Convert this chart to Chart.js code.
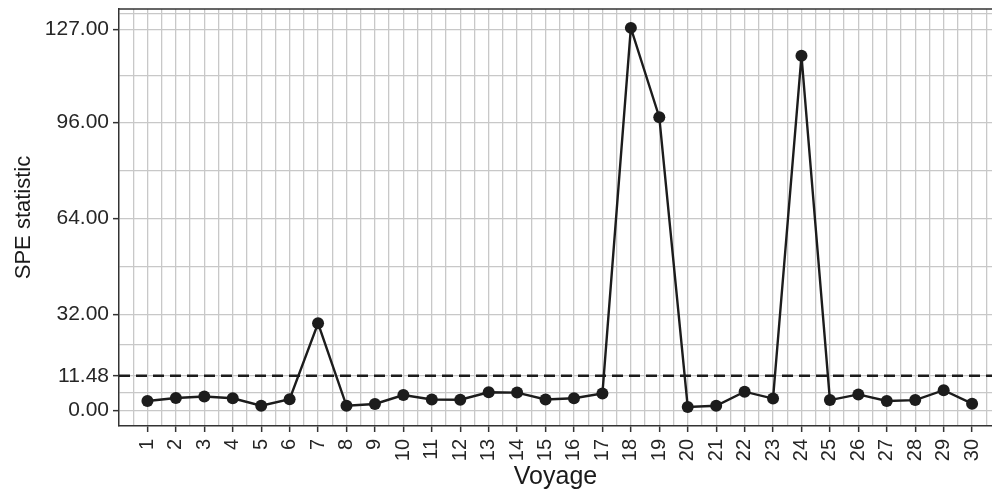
<!DOCTYPE html>
<html lang="en">
<head>
<meta charset="UTF-8">
<title>SPE statistic by voyage</title>
<style>
  html, body { margin: 0; padding: 0; background: #fff; }
  canvas { display: block; }
</style>
</head>
<body>
<canvas id="speChart" width="992" height="492"></canvas>

<script src="https://cdn.jsdelivr.net/npm/chart.js"></script>
<script>
// data
const voyages = ['1', '2', '3', '4', '5', '6', '7', '8', '9', '10',
                 '11', '12', '13', '14', '15', '16', '17', '18', '19', '20',
                 '21', '22', '23', '24', '25', '26', '27', '28', '29', '30'];
const speValues = [3.1, 4.1, 4.6, 4.0, 1.5, 3.7, 29.0, 1.5, 2.1, 5.1,
                   3.6, 3.5, 6.0, 5.9, 3.6, 4.0, 5.6, 127.6, 97.8, 1.1,
                   1.5, 6.2, 3.9, 118.3, 3.4, 5.3, 3.1, 3.4, 6.7, 2.2];
const threshold = 11.48;
const yMajorTicks = [0, 11.48, 32, 64, 96, 127];
const yMinorTicks = [5.74, 21.74, 48, 80, 111.5, 132.4];

const FONT = '"Liberation Sans", Arial, Helvetica, sans-serif';
const xMin = 0, xMax = 30.7;
const yMin = -5.25, yMax = 133.9;

// grid every half step between voyages
const xGrid = [];
for (let i = 1; i <= voyages.length * 2 + 1; i++) xGrid.push(i / 2);

const isMajorY = v => yMajorTicks.includes(v);
const isMajorX = v => Number.isInteger(v) && v >= 1 && v <= voyages.length;

// top frame line of the panel
const topBorder = {
    id: 'topBorder',
    afterDraw(chart) {
        const { ctx, chartArea: a } = chart;
        ctx.save();
        ctx.strokeStyle = '#333';
        ctx.lineWidth = 1.5;
        ctx.beginPath();
        ctx.moveTo(a.left, a.top);
        ctx.lineTo(a.right, a.top);
        ctx.stroke();
        ctx.restore();
    }
};

new Chart(document.getElementById('speChart'), {
    type: 'line',
    data: {
        datasets: [{
            data: speValues.map((v, i) => ({ x: i + 1, y: v })),
            borderColor: '#1c1c1c',
            backgroundColor: '#1c1c1c',
            borderWidth: 2.4,
            pointRadius: 6,
            pointBorderWidth: 0,
            tension: 0
        }, {
            data: [{ x: xMin, y: threshold }, { x: xMax, y: threshold }],
            borderColor: '#1c1c1c',
            borderWidth: 2.5,
            borderDash: [11, 6],
            pointRadius: 0
        }]
    },
    options: {
        responsive: false,
        animation: false,
        devicePixelRatio: 1,
        layout: { autoPadding: false, padding: { top: 9, right: 0, left: 0, bottom: 0 } },
        plugins: {
            legend: { display: false },
            tooltip: { enabled: false }
        },
        scales: {
            x: {
                type: 'linear',
                min: xMin,
                max: xMax,
                afterBuildTicks: s => { s.ticks = xGrid.map(v => ({ value: v })); },
                afterFit: s => { s.height = 66; s.paddingLeft = 0; s.paddingRight = 0; },
                ticks: {
                    autoSkip: false,
                    minRotation: 90,
                    maxRotation: 90,
                    padding: 7,
                    color: '#262626',
                    font: { family: FONT, size: 20 },
                    callback: v => isMajorX(v) ? voyages[v - 1] : ''
                },
                grid: {
                    color: '#c8c8c8',
                    lineWidth: 1.3,
                    tickLength: 6,
                    tickWidth: 1.5,
                    tickColor: c => isMajorX(c.tick.value) ? '#333' : 'rgba(0,0,0,0)'
                },
                border: { display: true, color: '#333', width: 1.5 },
                title: {
                    display: true,
                    text: 'Voyage',
                    color: '#1a1a1a',
                    font: { family: FONT, size: 25 },
                    padding: { top: 0, bottom: 0 }
                }
            },
            y: {
                min: yMin,
                max: yMax,
                afterBuildTicks: s => {
                    s.ticks = [...yMajorTicks, ...yMinorTicks].sort((a, b) => a - b).map(v => ({ value: v }));
                },
                afterFit: s => { s.width = 119; s.paddingTop = 0; s.paddingBottom = 0; },
                ticks: {
                    autoSkip: false,
                    padding: 4,
                    color: '#262626',
                    font: { family: FONT, size: 21 },
                    callback: v => isMajorY(v) ? v.toFixed(2) : ''
                },
                grid: {
                    color: '#c8c8c8',
                    lineWidth: 1.3,
                    tickLength: 6,
                    tickWidth: 1.5,
                    tickColor: c => isMajorY(c.tick.value) ? '#333' : 'rgba(0,0,0,0)'
                },
                border: { display: true, color: '#333', width: 1.5 },
                title: {
                    display: true,
                    text: 'SPE statistic',
                    color: '#1a1a1a',
                    font: { family: FONT, size: 22 },
                    padding: { top: 11, bottom: 0 }
                }
            }
        }
    },
    plugins: [topBorder]
});
</script>
</body>
</html>
